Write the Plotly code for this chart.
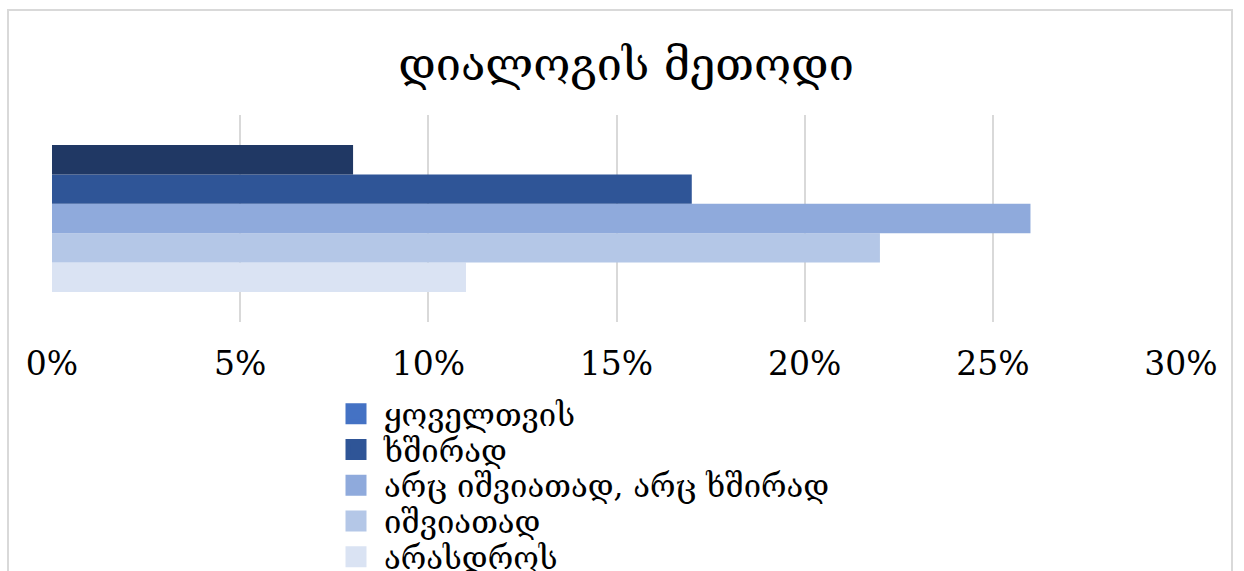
import plotly.graph_objects as go

categories = ["დიალოგის მეთოდი"]
series_names = ["ყოველთვის", "ხშირად", "არც იშვიათად, არც ხშირად", "იშვიათად", "არასდროს"]
values = [8, 17, 26, 22, 11]
bar_colors = ["#203864", "#2F5597", "#8FAADC", "#B4C7E7", "#DAE3F3"]
legend_colors = ["#4472C4", "#2F5597", "#8FAADC", "#B4C7E7", "#DAE3F3"]
tick_vals = [0, 5, 10, 15, 20, 25, 30]
tick_text = ["0%", "5%", "10%", "15%", "20%", "25%", "30%"]

GEO = "DejaVu Serif, serif"
TICK = "DejaVu Serif, serif"

L, R, T, B = 52, 1181, 115, 322
W, H = 1244, 571
pw, ph = R - L, B - T

fig = go.Figure()
# bars: first series on top -> add in reverse order
for name, v, c in reversed(list(zip(series_names, values, bar_colors))):
    fig.add_trace(go.Bar(y=categories, x=[v], name=name, orientation="h",
                         marker=dict(color=c, line=dict(width=0)), showlegend=False))

# legend entries, one legend per entry so the row spacing can match
legend_layout = {}
for i, (name, c) in enumerate(zip(series_names, legend_colors)):
    key = "legend" if i == 0 else f"legend{i + 1}"
    fig.add_trace(go.Scatter(x=[None], y=[None], name=name, mode="markers", legend=key,
                             marker=dict(color=c, symbol="square", size=16,
                                         line=dict(color=c, width=5)),
                             showlegend=True))
    yc = 414 + 35.8 * i
    legend_layout[key] = dict(x=(328 - L) / pw, xanchor="left", y=(B - yc) / ph,
                              yanchor="middle", font=dict(family=GEO, size=31, color="#000000"),
                              itemsizing="trace", itemwidth=46, bgcolor="rgba(0,0,0,0)",
                              borderwidth=0)

fig.update_layout(
    width=W, height=H,
    margin=dict(l=L, r=W - R, t=T, b=H - B, autoexpand=False),
    paper_bgcolor="white", plot_bgcolor="white",
    barmode="group", bargap=0.29, bargroupgap=0,
    title=dict(text="დიალოგის მეთოდი", x=626 / W, xanchor="center", y=1 - 64 / H,
               yanchor="middle", font=dict(family=GEO, size=45, color="#000000")),
    xaxis=dict(range=[0, 30], tickvals=tick_vals, ticktext=tick_text, automargin=False,
               showgrid=True, gridcolor="#D9D9D9", gridwidth=2, zeroline=False,
               ticks="outside", ticklen=12, tickcolor="rgba(0,0,0,0)",
               tickfont=dict(family=TICK, size=33, color="#000000"), fixedrange=True),
    yaxis=dict(showticklabels=False, showgrid=False, zeroline=False, fixedrange=True,
               automargin=False),
    showlegend=True,
    **legend_layout,
)
fig.add_shape(type="rect", xref="paper", yref="paper",
              x0=(8 - L) / pw, x1=(1232 - L) / pw, y0=(B - 600) / ph, y1=(B - 10) / ph,
              line=dict(color="#D9D9D9", width=2), fillcolor="rgba(0,0,0,0)", layer="below")

fig.write_html("out.html", config={"displayModeBar": False},
               post_script="document.body.style.margin='0';document.body.style.overflow='hidden';")
